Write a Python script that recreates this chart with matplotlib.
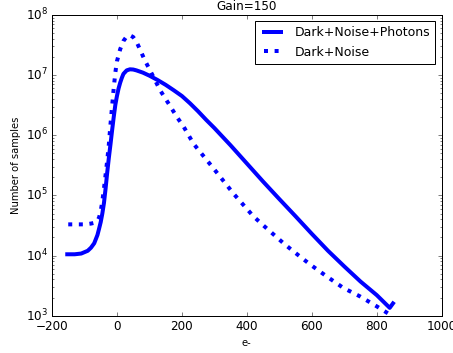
import matplotlib
matplotlib.use("Agg")
import matplotlib.pyplot as plt

plt.style.use('classic')
plt.rcParams['lines.scale_dashes'] = True
plt.rcParams['lines.dotted_pattern'] = [1, 1.65]
plt.rcParams['font.family'] = ['DejaVu Sans']

title = "Gain=150"
xlabel = "e-"
ylabel = "Number of samples"
label_photons = "Dark+Noise+Photons"
label_dark = "Dark+Noise"

x_photons = [-153, -130, -110, -90, -80, -70, -60, -55, -50, -45, -40, -35, -30, -25,
             -20, -15, -10, -5, 0, 5, 10, 15, 20, 30, 40, 50, 60, 80, 100, 125, 150,
             175, 200, 225, 250, 275, 300, 350, 400, 450, 500, 550, 600, 650, 700,
             750, 800, 840, 850]
y_photons = [1.05e4, 1.05e4, 1.08e4, 1.2e4, 1.35e4, 1.6e4, 2.2e4, 2.8e4, 3.6e4, 5e4,
             7.5e4, 1.3e5, 2.4e5, 4.2e5, 7e5, 1.2e6, 2e6, 3.2e6, 4.5e6, 6e6, 7.5e6,
             9e6, 1.05e7, 1.2e7, 1.25e7, 1.24e7, 1.2e7, 1.1e7, 9.8e6, 8.3e6, 6.9e6,
             5.6e6, 4.5e6, 3.4e6, 2.5e6, 1.8e6, 1.32e6, 6.8e5, 3.4e5, 1.7e5, 8.7e4,
             4.5e4, 2.3e4, 1.2e4, 6.6e3, 3.7e3, 2.2e3, 1.35e3, 1.6e3]

x_dark = [-150, -100, -80, -70, -60, -55, -50, -45, -40, -35, -30, -25, -20, -15, -10,
          -5, 0, 10, 20, 30, 40, 50, 60, 72, 85, 102, 133, 160, 185, 205, 236, 300,
          359, 420, 450, 513, 543, 595, 646, 697, 748, 800, 846, 850]
y_dark = [3.3e4, 3.3e4, 3.4e4, 3.5e4, 3.8e4, 4.3e4, 5.5e4, 8e4, 1.3e5, 2.2e5, 3.8e5,
          7e5, 1.5e6, 3e6, 6e6, 1.1e7, 1.7e7, 2.7e7, 3.7e7, 4.4e7, 4.6e7, 4.3e7,
          3.6e7, 2.6e7, 1.8e7, 1.2e7, 5.6e6, 3.3e6, 2e6, 1.4e6, 7.2e5, 2.7e5,
          1.07e5, 4.5e4, 3.2e4, 1.6e4, 1.18e4, 7.1e3, 4.5e3, 2.9e3, 2.1e3, 1.43e3,
          1.0e3, 9e2]

fig = plt.figure(figsize=(453 / 72, 353 / 72), dpi=72, facecolor='white')
ax = fig.add_axes([0.1148, 0.1057, 0.8602, 0.8518])
ax.plot(x_photons, y_photons, color='b', lw=4, ls='-', label=label_photons)
ax.plot(x_dark, y_dark, color='b', lw=4, ls=':', label=label_dark)
ax.set_yscale('log')
ax.set_xlim(-200, 1000)
ax.set_ylim(1e3, 1e8)
ax.set_title(title, fontsize=12)
ax.set_xlabel(xlabel, fontsize=10)
ax.set_ylabel(ylabel, fontsize=10)
ax.legend(loc='upper right', fontsize=12.5)
fig.savefig("out.png", dpi=72, facecolor='white')
